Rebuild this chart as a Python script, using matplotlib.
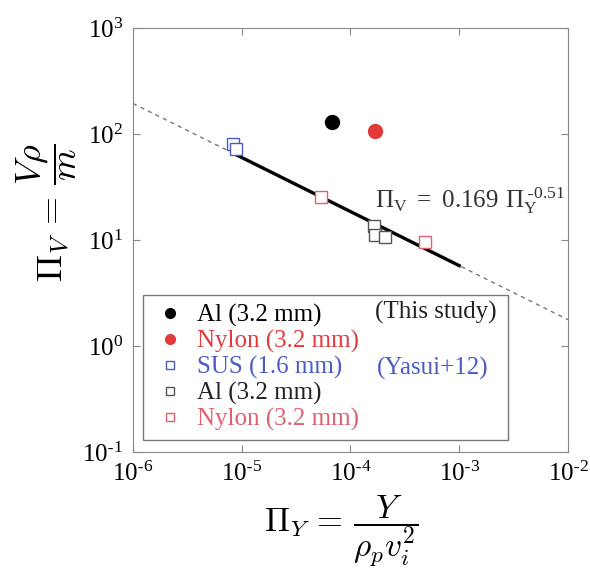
import matplotlib
matplotlib.use('Agg')
import matplotlib.pyplot as plt
import matplotlib.ticker as mticker
import numpy as np

plt.rcParams['font.family'] = ['Liberation Serif', 'DejaVu Serif']
plt.rcParams['mathtext.fontset'] = 'cm'
plt.rcParams['axes.unicode_minus'] = False

# data
al_this_x = [6.7e-5]
al_this_y = [130]
nylon_this_x = [1.67e-4]
nylon_this_y = [107]
sus_x = [8.3e-6, 8.9e-6]
sus_y = [80, 72]
al_yasui_x = [1.64e-4, 1.67e-4, 2.07e-4]
al_yasui_y = [13.5, 11.1, 10.7]
nylon_yasui_x = [5.4e-5, 4.8e-4]
nylon_yasui_y = [25.3, 9.6]

# fit Pi_V = 0.169 Pi_Y^-0.51
fit_a = 0.169
fit_b = -0.51
fit_solid = [8.9e-6, 1e-3]
fit_dashed = [1e-6, 1e-2]

red = '#e23a3a'
blue = '#4a5cc4'
pink = '#e06070'
grey = '#555555'


def pow_fmt(v, pos):
    e = int(round(np.log10(v)))
    es = str(e).replace('-', r'\text{-}')
    return r'$\mathdefault{10^{' + es + '}}$'


fig = plt.figure(figsize=(5.9, 5.73), dpi=100)
ax = fig.add_axes([0.2254, 0.2112, 0.7373, 0.74])

xd = np.logspace(np.log10(fit_dashed[0]), np.log10(fit_dashed[1]), 50)
ax.plot(xd, fit_a * xd ** fit_b, linestyle=(0, (3, 3)), color='#777777', lw=1.0)
xs = np.logspace(np.log10(fit_solid[0]), np.log10(fit_solid[1]), 50)
ax.plot(xs, fit_a * xs ** fit_b, color='black', lw=2.4)

ax.plot(al_this_x, al_this_y, 'o', color='black', ms=10, label='Al (3.2 mm)')
ax.plot(nylon_this_x, nylon_this_y, 'o', color=red, ms=10, label='Nylon (3.2 mm)')
ax.plot(sus_x, sus_y, 's', mfc='white', mec=blue, mew=1.0, ms=9, label='SUS (1.6 mm)')
ax.plot(al_yasui_x, al_yasui_y, 's', mfc='white', mec=grey, mew=1.0, ms=9, label='Al (3.2 mm)')
ax.plot(nylon_yasui_x, nylon_yasui_y, 's', mfc='white', mec=pink, mew=1.0, ms=9, label='Nylon (3.2 mm)')

ax.set_xscale('log')
ax.set_yscale('log')
ax.set_xlim(1e-6, 1e-2)
ax.set_ylim(1e-1, 1e3)
ax.minorticks_off()
ax.xaxis.set_major_formatter(mticker.FuncFormatter(pow_fmt))
ax.yaxis.set_major_formatter(mticker.FuncFormatter(pow_fmt))
ax.tick_params(direction='in', top=True, right=True, length=5, color='#888888',
               labelsize=18, pad=7)
for s in ax.spines.values():
    s.set_color('#888888')

ax.text(0.556, 0.575, r'$\mathdefault{\Pi_V\;=\;0.169\ \Pi_Y^{\;\text{-}0.51}}$',
        transform=ax.transAxes, fontsize=18, color='#333333', va='baseline')

leg = ax.legend(loc='lower left', bbox_to_anchor=(0.023, 0.028, 0.839, 0.352),
                mode='expand', fontsize=18, handletextpad=0.3, handlelength=1.5,
                labelspacing=0.12, borderpad=0.35, borderaxespad=0, fancybox=False,
                edgecolor='#777777', framealpha=1, markerscale=0.7)
leg.get_frame().set_linewidth(1.0)
for t, c in zip(leg.get_texts(), ['black', red, blue, '#222222', pink]):
    t.set_color(c)

ax.text(0.556, 0.33, '(This study)', transform=ax.transAxes, fontsize=18,
        color='#222222', va='center', zorder=10)
ax.text(0.561, 0.198, '(Yasui+12)', transform=ax.transAxes, fontsize=18,
        color=blue, va='center', zorder=10)

ax.set_xlabel(r'$\Pi_Y\, =\, \dfrac{Y}{\rho_p v_i^2}$', fontsize=24)
ax.set_ylabel(r'$\Pi_V\, =\, \dfrac{V\rho}{m}$', fontsize=26)
ax.xaxis.set_label_coords(0.478, -0.098)
ax.yaxis.set_label_coords(-0.125, 0.564)

fig.savefig('out.png', dpi=100)
